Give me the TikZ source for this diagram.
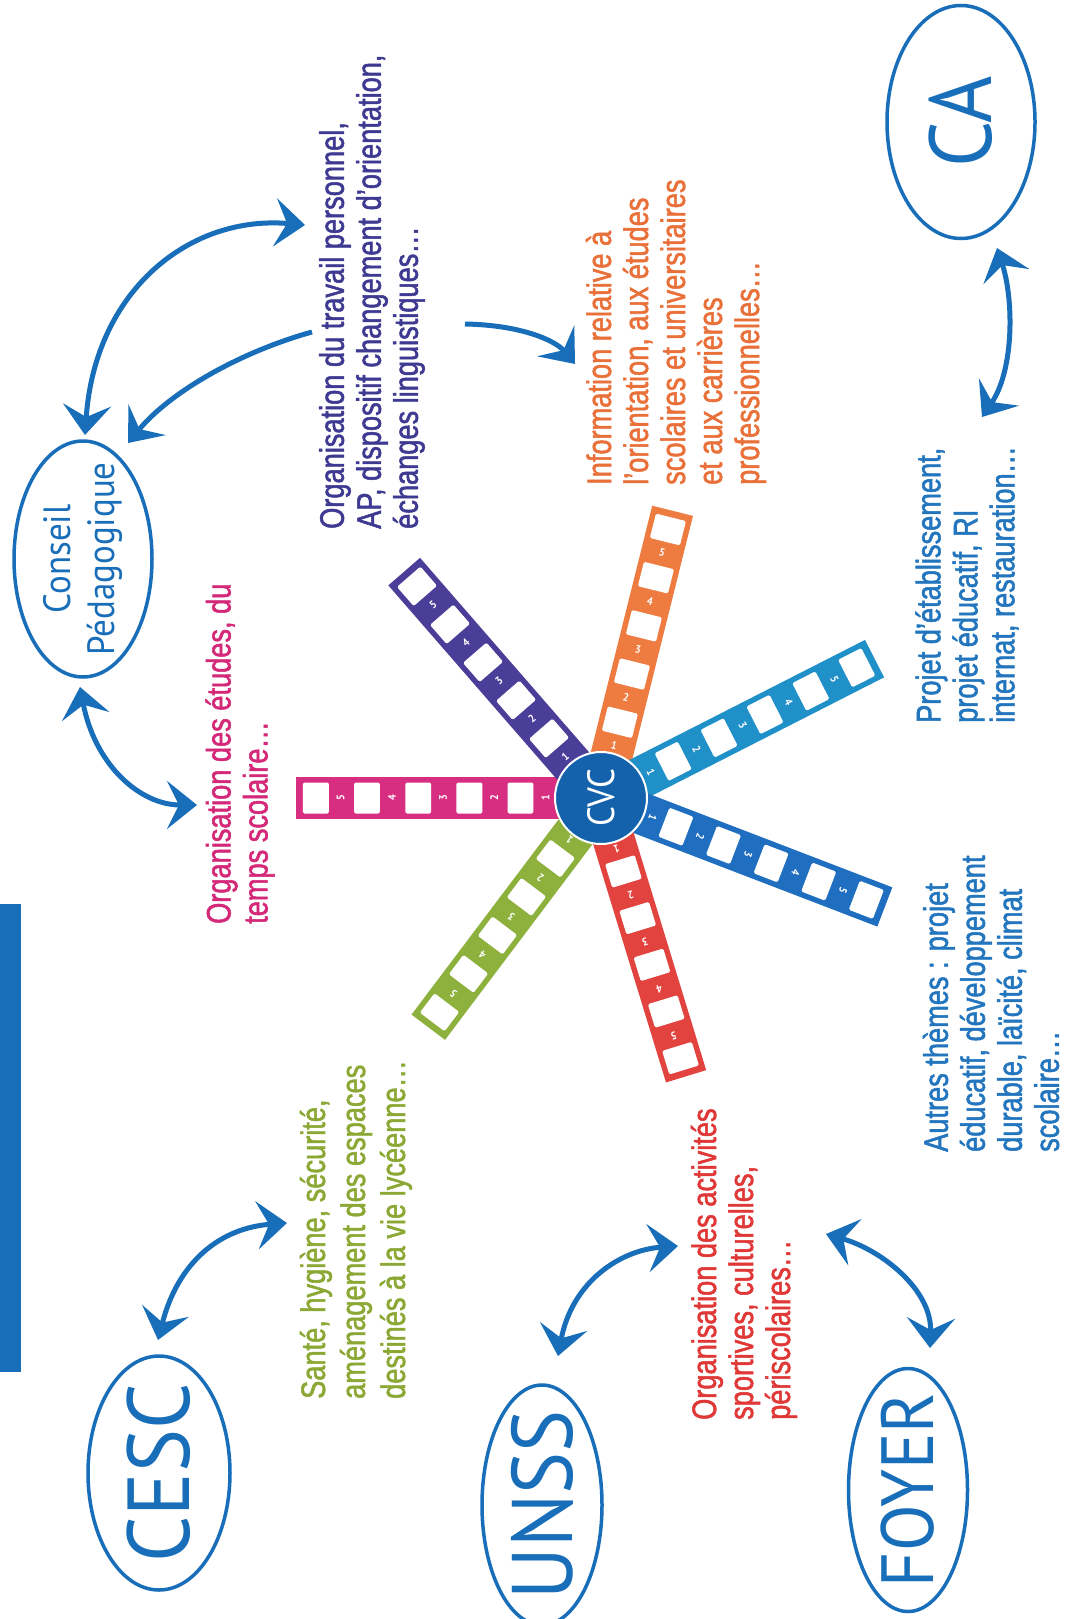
\documentclass[tikz,border=0pt]{standalone}
\usepackage{fontspec}
\setmainfont{Liberation Sans}[FakeStretch=0.8,FakeBold=1.5]
\newfontfamily\myr{PT Sans}[FakeStretch=0.92]
\usetikzlibrary{arrows.meta,shapes.geometric}
\definecolor{ellblue}{RGB}{25,110,185}
\definecolor{cdark}{RGB}{63,58,145}
\definecolor{cora}{RGB}{234,112,58}
\definecolor{cmag}{RGB}{212,40,120}
\definecolor{cgrn}{RGB}{140,168,52}
\definecolor{cred}{RGB}{224,55,55}
\definecolor{ctb}{RGB}{35,118,190}
\definecolor{amag}{RGB}{216,46,130}
\definecolor{apur}{RGB}{75,62,152}
\definecolor{aora}{RGB}{238,123,64}
\definecolor{albl}{RGB}{32,144,200}
\definecolor{ablu}{RGB}{31,110,191}
\definecolor{ared}{RGB}{226,67,63}
\definecolor{agrn}{RGB}{142,176,61}
\definecolor{cvcblue}{RGB}{20,98,172}
\tikzset{
  ell/.style={ellipse, draw=ellblue, line width=3.5pt, inner sep=0pt},
  elltxt/.style={rotate=90, text=ellblue, inner sep=0pt, align=center},
  txt/.style={rotate=90, align=left, inner sep=0pt, anchor=west, font=\fontsize{34}{37}\selectfont},
  conn/.style={draw=ellblue, line width=5pt},
  dbl/.style={conn, {Stealth[length=30pt,width=48pt,inset=12pt]}-{Stealth[length=30pt,width=48pt,inset=12pt]}},
  sgl/.style={conn, -{Stealth[length=30pt,width=48pt,inset=12pt]}},
  num/.style={text=white, inner sep=0pt, font=\myr\bfseries\fontsize{11}{11}\selectfont}
}
\begin{document}
\begin{tikzpicture}[x=1pt,y=-1pt]
\useasboundingbox (0,0) rectangle (1072,1619);
\fill[white] (0,0) rectangle (1072,1619);
% left bar
\fill[ellblue] (0,904) rectangle (21,1372);

% star arms
\coordinate (cvcc) at (601,798);
\foreach \ang/\col/\L [count=\i] in {180/amag/305,131/apur/300,76/aora/296,27/albl/307,-21/ablu/304,-73/ared/291,-127/agrn/287}{
  \begin{scope}[shift={(cvcc)}, rotate=\ang]
    \pgfmathsetmacro\s{\L/307}
    \fill[\col] (0,-21) rectangle (\L,21);
    \foreach \k in {1,...,5}{
      \pgfmathsetmacro\tn{\s*(56+51.5*(\k-1))}
      \pgfmathsetmacro\ts{\s*(81+51.5*(\k-1))}
      \fill[white, rounded corners=1.5pt] (\ts-13*\s,-15.5) rectangle (\ts+13*\s,15.5);
      \node[num, rotate=\ang-90] (n\i\k) at (\tn,0) {\k};
    }
  \end{scope}
}
\node[circle, fill=cvcblue, draw=white, line width=2pt, minimum size=92pt, inner sep=0pt] (cvc) at (cvcc) {};
\node[rotate=90, text=white, inner sep=0pt, font=\myr\fontsize{38}{38}\selectfont] (cvct) at (cvc.center) {CVC};

% ellipses
\node[ell, minimum width=138pt, minimum height=236pt] (cp) at (83,559) {};
\node[elltxt, font=\myr\fontsize{38}{44}\selectfont] (cpt) at (cp.center) {Conseil\\Pédagogique};
\node[ell, minimum width=142pt, minimum height=234pt] (cesc) at (159,1473) {};
\node[elltxt, font=\myr\fontsize{88}{88}\selectfont] (cesct) at (cesc.center) {CESC};
\node[ell, minimum width=120pt, minimum height=240pt] (unss) at (542,1505) {};
\node[elltxt, font=\myr\fontsize{86}{86}\selectfont] (unsst) at (unss.center) {UNSS};
\node[ell, minimum width=119pt, minimum height=243pt] (foyer) at (908,1490) {};
\node[elltxt, font=\myr\fontsize{74}{74}\selectfont] (foyert) at (foyer.center) {FOYER};
\node[ell, minimum width=148pt, minimum height=233pt] (ca) at (961,122) {};
\node[elltxt, font=\myr\fontsize{88}{88}\selectfont] (cat) at (ca.center) {CA};

% texts
\node[txt, text=cdark] (ta) at (372,529) {Organisation du travail personnel,\\AP, dispositif changement d’orientation,\\échanges linguistiques…};
\node[txt, text=cora] (tb) at (676,485) {Information relative à\\l’orientation, aux études\\scolaires et universitaires\\et aux carrières\\professionnelles…};
\node[txt, text=cmag] (tc) at (240,924) {Organisation des études, du\\temps scolaire…};
\node[txt, text=cgrn, font=\fontsize{34}{40}\selectfont] (td) at (356,1399) {Santé, hygiène, sécurité,\\aménagement des espaces\\destinés à la vie lycéenne…};
\node[txt, text=cred] (te) at (744,1420) {Organisation des activités\\sportives, culturelles,\\périscolaires…};
\node[txt, text=ctb] (tf) at (967,723) {Projet d’établissement,\\projet éducatif, RI\\internat, restauration…};
\node[txt, text=ctb] (tg) at (991,1152) {Autres thèmes : projet\\éducatif, développement\\durable, laïcité, climat\\scolaire…};

% connector end points
\coordinate (c1a) at (85,435);   \coordinate (c1b) at (305,225);
\coordinate (c2a) at (312,332);  \coordinate (c2b) at (128,443);
\coordinate (c3a) at (80,687);   \coordinate (c3b) at (197,805);
\coordinate (c4a) at (465,324);  \coordinate (c4b) at (575,364);
\coordinate (c5a) at (158,1340); \coordinate (c5b) at (287,1223);
\coordinate (c6a) at (558,1356); \coordinate (c6b) at (678,1246);
\coordinate (c7a) at (826,1234); \coordinate (c7b) at (930,1348);
\coordinate (c8a) at (982,417);  \coordinate (c8b) at (997,248);

\draw[dbl] (c1a) .. controls (95,290) and (190,215) .. (c1b);
\draw[sgl] (c2a) .. controls (240,352) and (170,392) .. (c2b);
\draw[dbl] (c3a) .. controls (95,765) and (140,805) .. (c3b);
\draw[sgl] (c4a) .. controls (520,325) and (555,340) .. (c4b);
\draw[dbl] (c5a) .. controls (178,1262) and (220,1228) .. (c5b);
\draw[dbl] (c6a) .. controls (572,1282) and (620,1250) .. (c6b);
\draw[dbl] (c7a) .. controls (882,1250) and (932,1290) .. (c7b);
\draw[dbl] (c8a) .. controls (1014,370) and (1014,300) .. (c8b);
\end{tikzpicture}
\end{document}
